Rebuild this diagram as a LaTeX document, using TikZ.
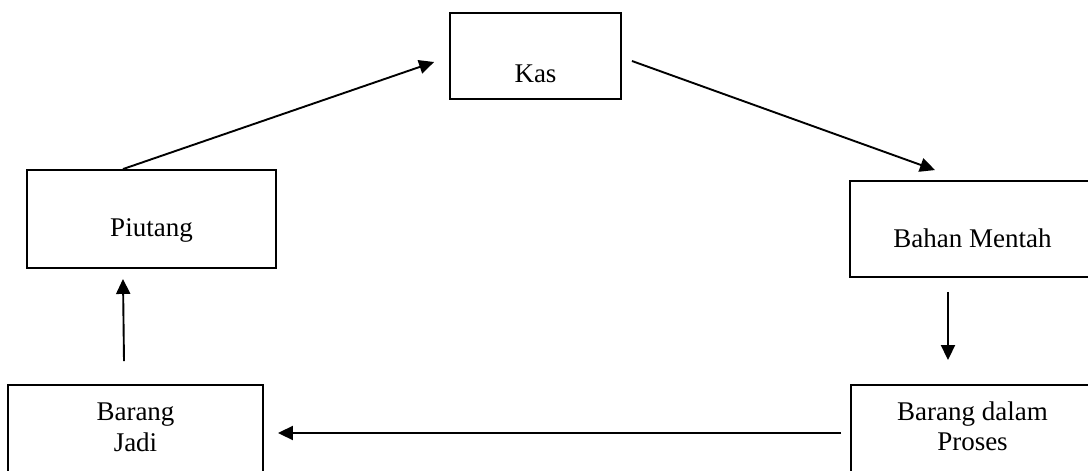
\documentclass[tikz,border=0pt]{standalone}
\usepackage{fontspec}
\setmainfont{Liberation Serif}
\usetikzlibrary{arrows.meta}
\begin{document}
\begin{tikzpicture}[x=1pt,y=-1pt,
  box/.style={draw, line width=1.9pt, inner sep=0pt},
  txt/.style={font=\fontsize{27}{30}\selectfont, inner sep=0pt, anchor=base},
  arr/.style={line width=1.9pt, -{Triangle[length=15pt,width=14pt]}}]
  % page frame
  \useasboundingbox (0,0) rectangle (1088,471);
  \clip (0,0) rectangle (1088,471);
  \fill[white] (0,0) rectangle (1088,471);

  % boxes of the cycle
  \node[box, minimum width=171pt, minimum height=86pt] (kas) at (535.5,56) {};
  \node[box, minimum width=249pt, minimum height=98pt] (piutang) at (151.5,219) {};
  \node[box, minimum width=245pt, minimum height=96pt] (bahan) at (972.5,229) {};
  \node[box, minimum width=243pt, minimum height=100pt] (proses) at (972.5,435) {};
  \node[box, minimum width=255pt, minimum height=100pt] (jadi) at (135.5,435) {};

  % labels
  \node[txt] (tkas) at (535.5,82) {Kas};
  \node[txt] (tpiutang) at (151.5,236) {Piutang};
  \node[txt] (tbahan) at (972.5,247) {Bahan Mentah};
  \node[txt] (tproses1) at (972.5,420) {Barang dalam};
  \node[txt] (tproses2) at (972.5,450) {Proses};
  \node[txt] (tjadi1) at (135.5,420) {Barang};
  \node[txt] (tjadi2) at (135.5,451) {Jadi};

  % flow of the cycle
  \draw[arr] ([shift={(-28.5,0)}]piutang.north) -- ([shift={(-15,6)}]kas.west);
  \draw[arr] ([shift={(10,5)}]kas.east) -- ([shift={(-37.5,-10)}]bahan.north);
  \draw[arr] ([shift={(-24.5,14)}]bahan.south) -- ([shift={(-24.5,-24)}]proses.north);
  \draw[arr] ([shift={(-9,-2)}]proses.west) -- ([shift={(14,-2)}]jadi.east);
  \draw[arr] ([shift={(-11.5,-23)}]jadi.north) -- ([shift={(-28.5,10)}]piutang.south);
\end{tikzpicture}
\end{document}
